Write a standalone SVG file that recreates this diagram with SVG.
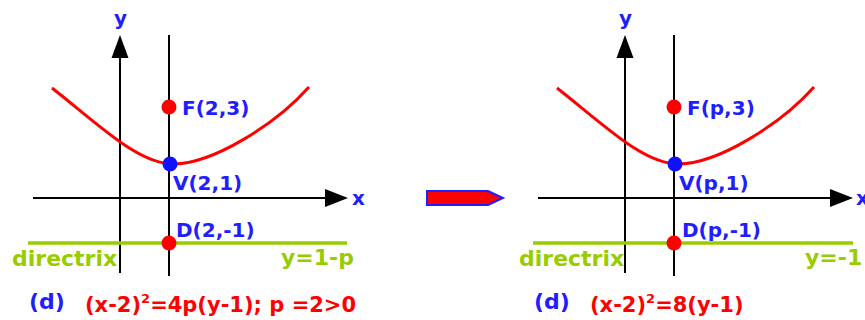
<svg xmlns="http://www.w3.org/2000/svg" width="865" height="320" viewBox="0 0 865 320">
<defs>
<style>
.ax{stroke:#000;stroke-width:2;fill:none}
.head{fill:#000}
.curve{stroke:#ff0000;stroke-width:3;fill:none}
.dir{stroke:#99cc00;stroke-width:3.5}
.lbl{font-family:"DejaVu Sans",Verdana,sans-serif;font-weight:bold;font-size:20px;fill:#1e1eff}
.glbl{font-family:"DejaVu Sans",Verdana,sans-serif;font-weight:bold;font-size:22px;fill:#99cc00}
.eq{font-family:"DejaVu Sans",Verdana,sans-serif;font-weight:bold;font-size:21px;fill:#ff0000}
.tag{font-family:"DejaVu Sans",Verdana,sans-serif;font-weight:bold;font-size:22px;fill:#1e1eff}
.sup{font-size:13px}
.red{fill:#ff0000}
.blue{fill:#1010ff}
</style>
</defs>

<g id="panel-left">
  <g id="axes-left">
    <line class="ax" x1="120" y1="56" x2="120" y2="273"/>
    <polygon class="head" points="120,35 111.5,58 128.5,58"/>
    <line class="ax" x1="169" y1="35" x2="169" y2="276"/>
    <line class="ax" x1="33" y1="198" x2="327" y2="198"/>
    <polygon class="head" points="348,198 325,189 325,207"/>
    <text class="lbl" x="114" y="25" font-size="22">y</text>
    <text class="lbl" x="352" y="205" font-size="21">x</text>
  </g>
  <g id="parabola-left">
    <path class="curve" d="M52,88 C98,124 138,164 173,164 C213,164 276,124 309,87"/>
  </g>
  <g id="directrix-left">
    <line class="dir" x1="28" y1="243" x2="347" y2="243"/>
    <text class="glbl" x="12" y="266">directrix</text>
    <text class="glbl" x="281" y="265" font-size="21">y=1-p</text>
  </g>
  <g id="focus-left">
    <circle class="red" cx="169" cy="107" r="7.5"/>
    <text class="lbl" x="182" y="115">F(2,3)</text>
  </g>
  <g id="vertex-left">
    <circle class="blue" cx="170" cy="164" r="7.5"/>
    <text class="lbl" x="173" y="190">V(2,1)</text>
  </g>
  <g id="dpoint-left">
    <circle class="red" cx="169" cy="243" r="7.5"/>
    <text class="lbl" x="176" y="237">D(2,-1)</text>
  </g>
  <g id="caption-left">
    <text class="tag" x="29" y="309">(d)</text>
    <text class="eq" x="85" y="312">(x-2)<tspan class="sup" dy="-9">2</tspan><tspan dy="9">=4p(y-1); p =2&gt;0</tspan></text>
  </g>
</g>

<g id="connectors">
  <polygon id="transform-arrow" points="427,191 488,191 503,198 488,205 427,205" fill="#ff0000" stroke="#1e1eff" stroke-width="2"/>
</g>

<g id="panel-right">
  <g id="axes-right">
    <line class="ax" x1="625" y1="56" x2="625" y2="273"/>
    <polygon class="head" points="625,35 616.5,58 633.5,58"/>
    <line class="ax" x1="674" y1="35" x2="674" y2="276"/>
    <line class="ax" x1="538" y1="198" x2="832" y2="198"/>
    <polygon class="head" points="853,198 830,189 830,207"/>
    <text class="lbl" x="619" y="25" font-size="22">y</text>
    <text class="lbl" x="856" y="205" font-size="21">x</text>
  </g>
  <g id="parabola-right">
    <path class="curve" d="M557,88 C603,124 643,164 678,164 C718,164 781,124 814,87"/>
  </g>
  <g id="directrix-right">
    <line class="dir" x1="533" y1="243" x2="853" y2="243"/>
    <text class="glbl" x="519" y="266">directrix</text>
    <text class="glbl" x="805" y="265" font-size="21">y=-1</text>
  </g>
  <g id="focus-right">
    <circle class="red" cx="674" cy="107" r="7.5"/>
    <text class="lbl" x="687" y="115">F(p,3)</text>
  </g>
  <g id="vertex-right">
    <circle class="blue" cx="675" cy="164" r="7.5"/>
    <text class="lbl" x="679" y="190">V(p,1)</text>
  </g>
  <g id="dpoint-right">
    <circle class="red" cx="674" cy="243" r="7.5"/>
    <text class="lbl" x="682" y="237">D(p,-1)</text>
  </g>
  <g id="caption-right">
    <text class="tag" x="534" y="309">(d)</text>
    <text class="eq" x="590" y="312">(x-2)<tspan class="sup" dy="-9">2</tspan><tspan dy="9">=8(y-1)</tspan></text>
  </g>
</g>
</svg>
